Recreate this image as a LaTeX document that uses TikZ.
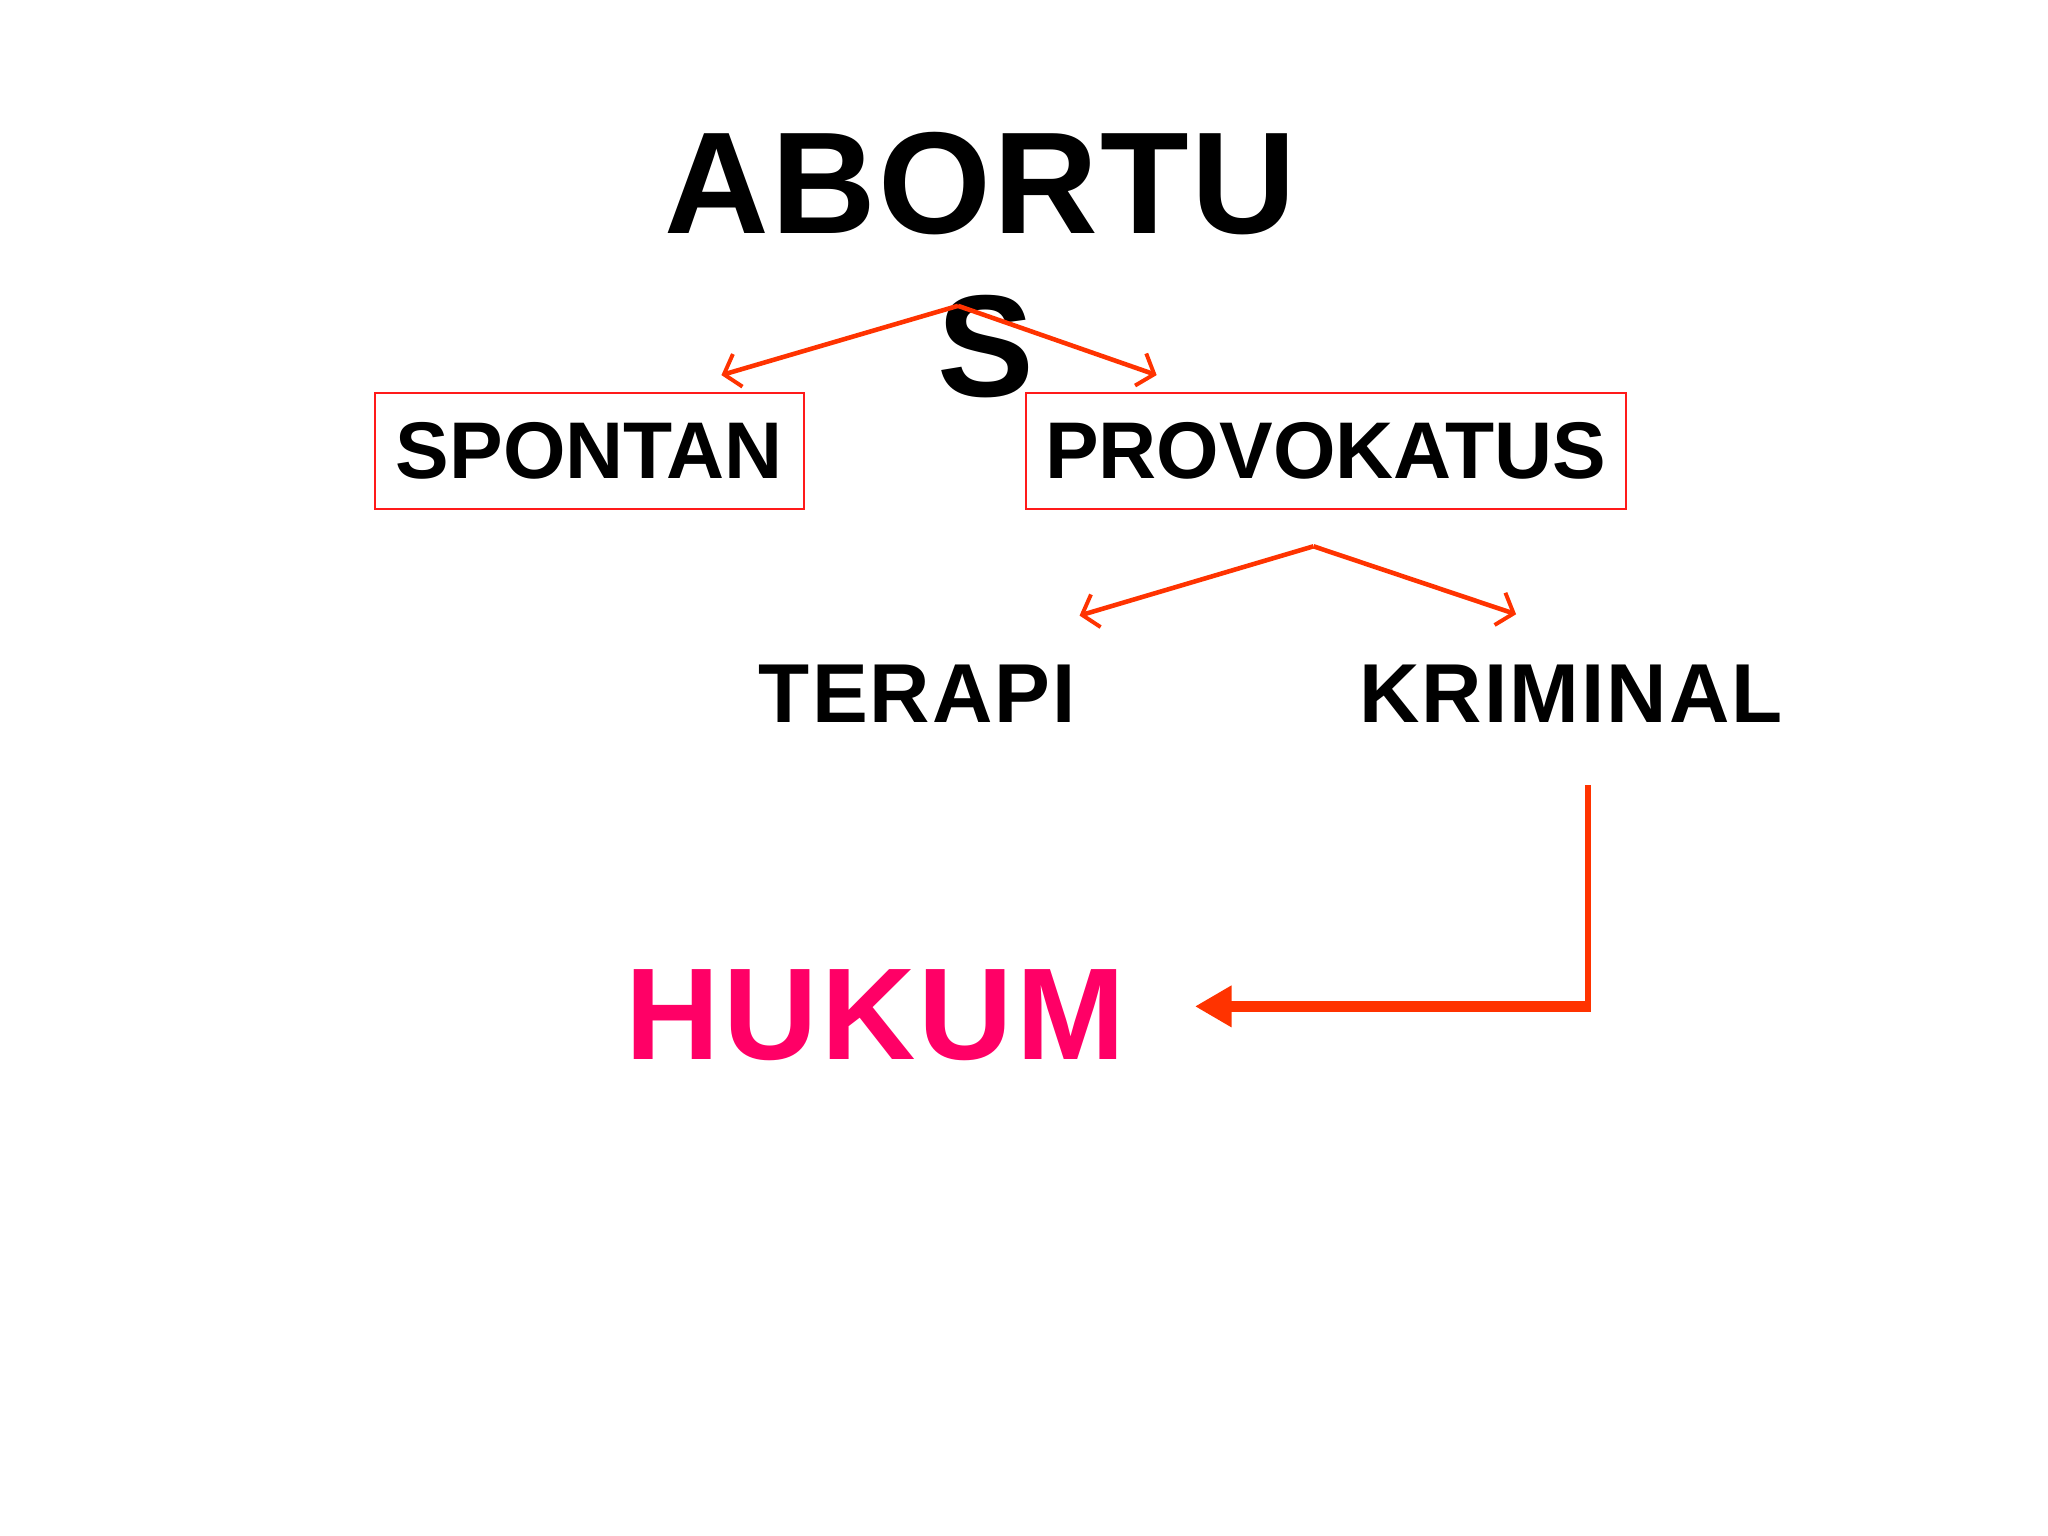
\documentclass[tikz,border=0pt]{standalone}
\usepackage{fontspec}
\setmainfont{Liberation Sans}
\usetikzlibrary{arrows.meta}
\definecolor{arr}{HTML}{FF3300}
\definecolor{boxred}{HTML}{FF1A1A}
\definecolor{huk}{HTML}{FF0066}
\begin{document}
\begin{tikzpicture}[x=1pt,y=-1pt,
  txt/.style={inner sep=0pt, font=\bfseries\fontsize{64}{64}\selectfont\addfontfeature{LetterSpace=2.5}},
  boxnode/.style={draw=boxred, line width=1.6pt, inner sep=0pt, font=\bfseries\fontsize{61.5}{61.5}\selectfont},
  thinarr/.style={draw=arr, line width=3.5pt, -{Straight Barb[length=11pt,width=26pt,line width=3pt]}},
]
\useasboundingbox (0,0) rectangle (1567,1175);
\fill[white] (0,0) rectangle (1567,1175);

\node (title) [inner sep=0pt, anchor=north, align=center,
  font=\bfseries\fontsize{111}{125}\selectfont\addfontfeature{LetterSpace=1.5}] at (750,101) {ABORTU\\\hspace*{8pt}S};

\node (spontan) [boxnode, minimum width=328pt, minimum height=89pt] at (451,345) {SPONTAN};
\node (provokatus) [boxnode, minimum width=459pt, minimum height=89pt] at (1014.5,345) {PROVOKATUS};

\node (terapi) [txt, anchor=base] at (702,553) {TERAPI};
\node (kriminal) [txt, anchor=base] at (1202,553) {KRIMINAL};

\node (hukum) [inner sep=0pt, anchor=base, text=huk,
  font=\bfseries\fontsize{100}{100}\selectfont\addfontfeature{LetterSpace=2.5}] at (670,811) {HUKUM};

\coordinate (s1) at (733,234);
\coordinate (t1l) at (552,287);
\coordinate (t1r) at (885,287);
\draw[thinarr] (s1) -- (t1l);
\draw[thinarr] (s1) -- (t1r);

\coordinate (s2) at (1005,418);
\coordinate (t2l) at (826,471);
\coordinate (t2r) at (1160,470);
\draw[thinarr] (s2) -- (t2l);
\draw[thinarr] (s2) -- (t2r);

\coordinate (v1) at (1215,601);
\coordinate (v2) at (1215,772);
\draw[arr, line width=4pt] (v1) -- (v2);
\draw[arr, line width=8pt, -{Triangle[length=28pt,width=30pt]}]
  (1217,770) -- ([xshift=53pt]hukum.east |- 0,770);
\end{tikzpicture}
\end{document}
